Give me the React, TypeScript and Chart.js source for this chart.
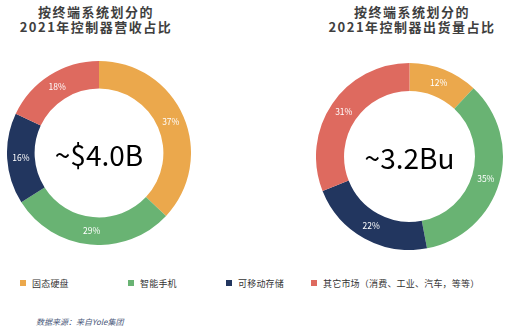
import React, { useEffect, useRef } from "react";
import { Chart, registerables } from "chart.js";

Chart.register(...registerables);

const categories = ["固态硬盘", "智能手机", "可移动存储", "其它市场（消费、工业、汽车，等等）"];
const colors = ["#EBA84C", "#69B373", "#22365F", "#DE6A5F"];
const revenueShare = [37, 29, 16, 18];
const shipmentShare = [12, 35, 22, 31];
const revenueTitle = ["按终端系统划分的", "2021年控制器营收占比"];
const shipmentTitle = ["按终端系统划分的", "2021年控制器出货量占比"];
const revenueCenter = "~$4.0B";
const shipmentCenter = "~3.2Bu";
const sourceText = "数据来源：来自Yole集团";

type DonutProps = {
  values: number[];
  center: string;
  left: number;
  top: number;
  size: number;
};

function Donut({ values, center, left, top, size }: DonutProps) {
  const ref = useRef<HTMLCanvasElement | null>(null);
  useEffect(() => {
    if (!ref.current) return;
    const labelPlugin = {
      id: "labels",
      afterDatasetsDraw(chart: any) {
        const ctx = chart.ctx;
        const meta = chart.getDatasetMeta(0);
        ctx.save();
        ctx.fillStyle = "#ffffff";
        ctx.font = "8.5px 'Noto Sans CJK SC', sans-serif";
        ctx.textAlign = "center";
        ctx.textBaseline = "middle";
        meta.data.forEach((arc: any, i: number) => {
          const p = arc.tooltipPosition();
          ctx.fillText(values[i] + "%", p.x, p.y);
        });
        const ca = chart.chartArea;
        ctx.fillStyle = "#000000";
        ctx.font = "28px 'Noto Sans CJK SC', sans-serif";
        ctx.fillText(center, (ca.left + ca.right) / 2, (ca.top + ca.bottom) / 2 + 2);
        ctx.restore();
      },
    };
    const chart = new Chart(ref.current, {
      type: "doughnut",
      data: {
        labels: categories,
        datasets: [
          {
            data: values,
            backgroundColor: colors,
            borderWidth: 0,
          },
        ],
      },
      options: {
        animation: false,
        responsive: false,
        cutout: "70%",
        layout: { padding: 0 },
        plugins: {
          legend: { display: false },
          tooltip: { enabled: false },
          title: { display: false },
        },
      },
      plugins: [labelPlugin],
    });
    return () => chart.destroy();
  }, [values, center]);
  return (
    <canvas
      ref={ref}
      width={size}
      height={size}
      style={{ position: "absolute", left, top, width: size, height: size }}
    />
  );
}

const titleStyle: React.CSSProperties = {
  position: "absolute",
  top: 4,
  width: 240,
  textAlign: "center",
  fontFamily: "'Noto Sans CJK SC', sans-serif",
  fontWeight: 700,
  fontSize: 13,
  lineHeight: "15px",
  letterSpacing: 1.5,
  color: "#3f3f3f",
};

export default function App() {
  useEffect(() => {
    document.body.style.margin = "0";
  }, []);
  const legendX = [20, 128, 226, 311];
  return (
    <div
      style={{
        position: "fixed",
        left: 0,
        top: 0,
        width: 509,
        height: 330,
        background: "#ffffff",
        overflow: "hidden",
      }}
    >
      <div style={{ ...titleStyle, left: 96 - 120 }}>
        {revenueTitle.map((t, i) => (
          <div key={i}>{t}</div>
        ))}
      </div>
      <div style={{ ...titleStyle, left: 412 - 120 }}>
        {shipmentTitle.map((t, i) => (
          <div key={i}>{t}</div>
        ))}
      </div>
      <Donut values={revenueShare} center={revenueCenter} left={7} top={61} size={184} />
      <Donut values={shipmentShare} center={shipmentCenter} left={316} top={63} size={187} />
      {categories.map((c, i) => (
        <div
          key={c}
          style={{
            position: "absolute",
            left: legendX[i],
            top: 276,
            height: 14,
            display: "flex",
            alignItems: "center",
            fontFamily: "'Noto Sans CJK SC', sans-serif",
            fontSize: 9,
            letterSpacing: 0.2,
            color: "#333333",
            whiteSpace: "nowrap",
          }}
        >
          <span
            style={{
              display: "inline-block",
              width: 6,
              height: 6,
              background: colors[i],
              marginRight: 6,
            }}
          />
          {c}
        </div>
      ))}
      <div
        style={{
          position: "absolute",
          left: 36,
          top: 316,
          fontFamily: "'Noto Sans CJK SC', sans-serif",
          fontSize: 8,
          fontStyle: "italic",
          color: "#4a587a",
          whiteSpace: "nowrap",
        }}
      >
        {sourceText}
      </div>
    </div>
  );
}
